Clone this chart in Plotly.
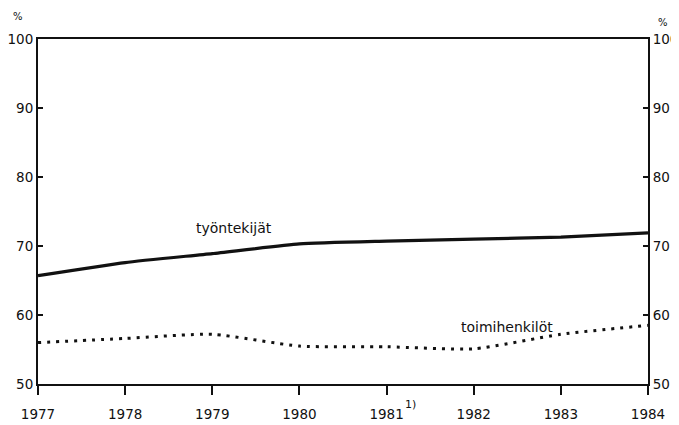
import plotly.graph_objects as go

years = [1977, 1978, 1979, 1980, 1981, 1982, 1983, 1984]
tyontekijat = [65.7, 67.6, 68.9, 70.3, 70.7, 71.0, 71.3, 71.9]
toimihenkilot = [56.0, 56.6, 57.2, 55.5, 55.4, 55.1, 57.2, 58.5]
y_ticks = [50, 60, 70, 80, 90, 100]
x_labels = ["1977", "1978", "1979", "1980", "1981", "1982", "1983", "1984"]

font_main = "DejaVu Sans"
ink = "#111111"

fig = go.Figure()
fig.add_trace(go.Scatter(
    x=years, y=tyontekijat, mode="lines",
    line=dict(color=ink, width=3.2, shape="spline", smoothing=0.5),
    showlegend=False, hoverinfo="skip"))
fig.add_trace(go.Scatter(
    x=years, y=toimihenkilot, mode="lines",
    line=dict(color=ink, width=3, dash="3px,6px", shape="spline", smoothing=0.6),
    showlegend=False, hoverinfo="skip"))
# invisible trace to anchor right axis
fig.add_trace(go.Scatter(
    x=[years[0]], y=[y_ticks[0]], yaxis="y2", mode="markers",
    marker=dict(opacity=0), showlegend=False, hoverinfo="skip"))

axis_font = dict(family=font_main, size=13.5, color=ink)
label_font = dict(family=font_main, size=14, color=ink)

# page body adds an 8px margin, so the figure is 8px smaller and shifted
fig.update_layout(
    width=671, height=417,
    margin=dict(l=30, r=31, t=31, b=41),
    paper_bgcolor="white", plot_bgcolor="white",
    xaxis=dict(
        range=[years[0], years[-1]], tickvals=years, ticktext=x_labels,
        showgrid=False, zeroline=False, showline=True, linecolor=ink,
        linewidth=2, mirror=True, ticks="outside", ticklen=9, tickwidth=1.5,
        tickcolor=ink, tickfont=axis_font, automargin=False,
        ticklabelstandoff=8),
    yaxis=dict(
        range=[50, 100], tickvals=y_ticks, showgrid=False, zeroline=False,
        showline=True, linecolor=ink, linewidth=2, ticks="inside",
        ticklen=5, tickwidth=1.5, tickcolor=ink, tickfont=axis_font,
        automargin=False),
    yaxis2=dict(
        range=[50, 100], tickvals=y_ticks, overlaying="y", side="right",
        showgrid=False, zeroline=False, showline=True, linecolor=ink,
        linewidth=2, ticks="inside", ticklen=5, tickwidth=1.5,
        tickcolor=ink, tickfont=axis_font, automargin=False),
    annotations=[
        dict(text="työntekijät", x=1979.25, y=72.6, xref="x", yref="y",
             showarrow=False, font=label_font),
        dict(text="toimihenkilöt", x=1982.38, y=58.3, xref="x", yref="y",
             showarrow=False, font=label_font),
        dict(text="%", x=0, y=1, xref="paper", yref="paper", xshift=-20, yshift=23,
             xanchor="center", yanchor="middle",
             showarrow=False, font=dict(family=font_main, size=10, color=ink)),
        dict(text="%", x=1, y=1, xref="paper", yref="paper", xshift=15, yshift=17,
             xanchor="center", yanchor="middle",
             showarrow=False, font=dict(family=font_main, size=10, color=ink)),
        dict(text="1)", x=1981, y=0, xref="x", yref="paper", xshift=24, yshift=-20,
             xanchor="center", yanchor="middle",
             showarrow=False, font=dict(family=font_main, size=11, color=ink)),
    ],
)

fig.write_html("out.html")
